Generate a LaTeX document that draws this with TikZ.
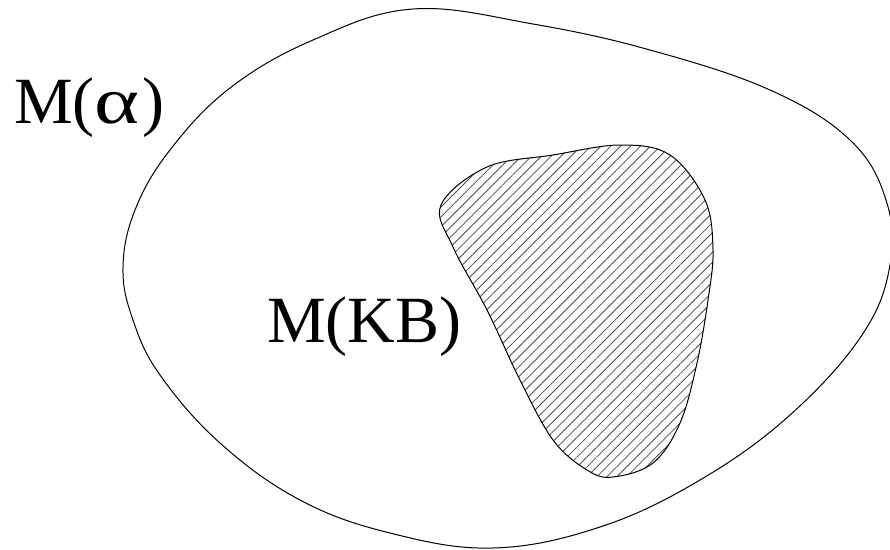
\documentclass[tikz,border=0pt]{standalone}
\usepackage{fontspec}
\usepackage{graphicx}
\setmainfont{Liberation Serif}
\usetikzlibrary{patterns.meta}
\definecolor{SetInk}{gray}{0}
\definecolor{HatchInk}{gray}{0.3}
\newcommand{\wideAlpha}{\scalebox{1.3}[1]{α}\kern3pt}
\tikzset{
  diagram/.style={x=1pt,y=-1pt,line join=round},
  setoutline/.style={draw=SetInk,line width=1pt},
  modelset/.style={setoutline,pattern={Lines[angle=45,distance=7pt,line width=0.8pt]},pattern color=HatchInk},
  setlabel/.style={inner sep=0pt,anchor=base west,text=SetInk,font=\fontsize{66}{70}\selectfont},
}

\begin{document}
\begin{tikzpicture}[diagram]
  \useasboundingbox (0,0) rectangle (890,549);

  % M(alpha): the large region
  \draw[setoutline] plot[smooth cycle,tension=0.65] coordinates {
    (123,268) (135,210) (170,150) (230,88) (313,40) (413,9)
    (533,24) (650,50) (770,90) (850,140) (886,200) (890,265) (862,335)
    (790,415) (700,480) (600,527) (493,548) (390,533) (300,500)
    (220,443) (160,375) (133,320)};

  % M(KB): the hatched region inside it
  \filldraw[modelset] plot[smooth cycle,tension=0.6] coordinates {
    (441,205) (487,167) (553,155) (620,145) (670,155) (705,200)
    (713,250) (708,300) (697,363) (680,423) (653,463) (613,477)
    (587,470) (553,440) (520,380) (487,310) (453,247)};

  \node[setlabel] (alpha) at (14,123) {M(\wideAlpha)};
  \node[setlabel] (kb) at (267,342) {M(KB)};
\end{tikzpicture}
\end{document}
